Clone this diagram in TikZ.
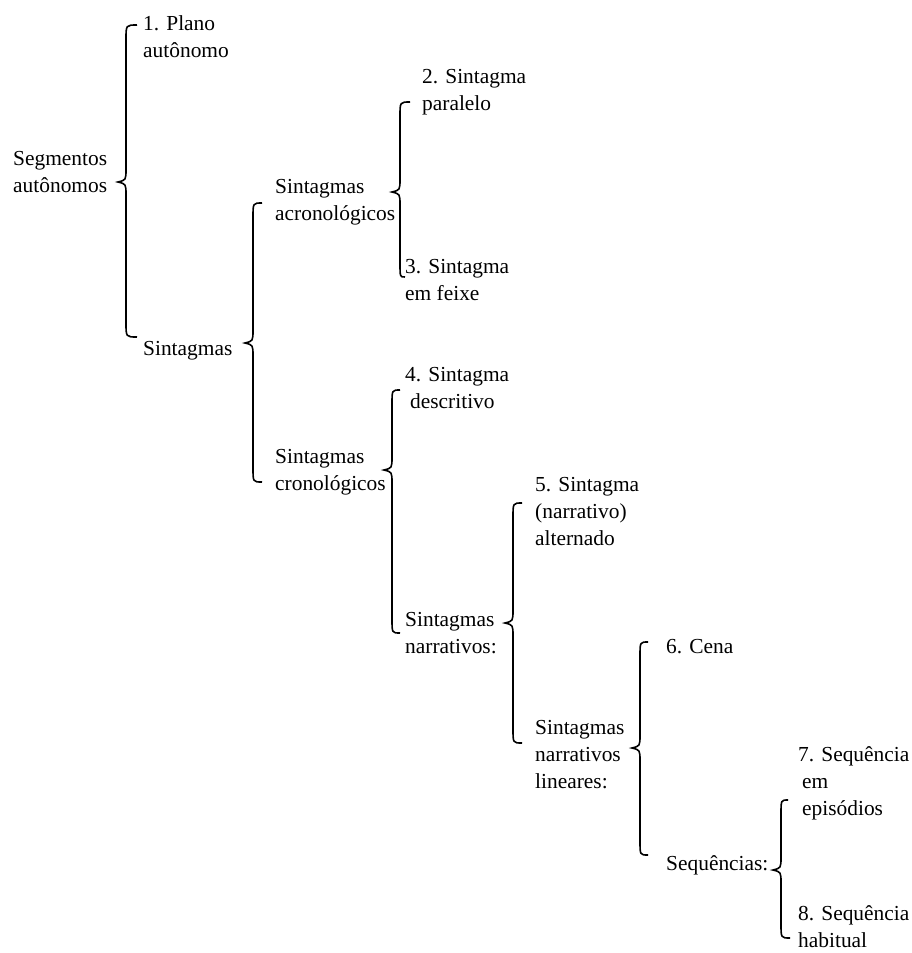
\documentclass[tikz,border=0pt]{standalone}
\usepackage{fontspec}
\setmainfont{Liberation Serif}
\usetikzlibrary{positioning,calc}

\newcommand{\drawbrace}[3]{%
  \draw[pbrace] let \p1=(#1), \p2=(#2), \p3=(#3) in
    (\p1) .. controls (\x2+8pt,\y1) .. (\x2+8pt,\y1-14pt)
    -- (\x2+8pt,\y2+13pt) .. controls (\x2+8pt,\y2+2pt) .. (\p2)
    .. controls (\x2+8pt,\y2-2pt) .. (\x2+8pt,\y2-13pt)
    -- (\x2+8pt,\y3+14pt) .. controls (\x2+8pt,\y3) .. (\p3);}

\begin{document}
\begin{tikzpicture}[x=1pt, y=-1pt]
\tikzset{
    plabel/.style= {anchor=base west, inner sep=0pt, align=left, font=\fontsize{21.4}{26.6}\selectfont},
    pbrace/.style= {black, line width=1.6pt},
}
\useasboundingbox (0,0) rectangle (911,953);

% labels, placed at the baseline of their last line
\node[plabel] (seg) at (13,192) {Segmentos\\autônomos};
\node[plabel] (p1) at (143,57) {1. Plano\\autônomo};
\node[plabel] (sint) at (143,355) {Sintagmas};

\node[plabel] (acro) at (275,220) {Sintagmas\\acronológicos};
\node[plabel] (p2) at (422,110) {2. Sintagma\\paralelo};
\node[plabel] (p3) at (405,300) {3. Sintagma\\em feixe};

\node[plabel] (cron) at (275,490) {Sintagmas\\cronológicos};
\node[plabel] (p4) at (405,408) {4. Sintagma\\\hspace*{5pt}descritivo};
\node[plabel] (narr) at (405,653) {Sintagmas\\narrativos:};

\node[plabel] (p5) at (535,545) {5. Sintagma\\(narrativo)\\alternado};
\node[plabel] (lin) at (535,788) {Sintagmas\\narrativos\\lineares:};

\node[plabel] (p6) at (666,653) {6. Cena};
\node[plabel] (seq) at (666,870) {Sequências:};

\node[plabel] (p7) at (798,815) {7. Sequência\\\hspace*{4pt}em\\\hspace*{4pt}episódios};
\node[plabel] (p8) at (798,947) {8. Sequência\\habitual};

% brace ends
\coordinate (segTop) at (137,25);
\coordinate (segMid) at (118,182);
\coordinate (segBot) at (137,337);
\coordinate (sintTop) at (262,203);
\coordinate (sintMid) at (245,343);
\coordinate (sintBot) at (262,482);
\coordinate (acroTop) at (410,102);
\coordinate (acroMid) at (392,192);
\coordinate (acroBot) at (405,277);
\coordinate (cronTop) at (400,390);
\coordinate (cronMid) at (384,470);
\coordinate (cronBot) at (400,633);
\coordinate (narrTop) at (522,503);
\coordinate (narrMid) at (505,623);
\coordinate (narrBot) at (522,743);
\coordinate (linTop) at (648,642);
\coordinate (linMid) at (632,748);
\coordinate (linBot) at (648,855);
\coordinate (seqTop) at (788,800);
\coordinate (seqMid) at (773,870);
\coordinate (seqBot) at (790,938);

\drawbrace{segTop}{segMid}{segBot}
\drawbrace{sintTop}{sintMid}{sintBot}
\drawbrace{acroTop}{acroMid}{acroBot}
\drawbrace{cronTop}{cronMid}{cronBot}
\drawbrace{narrTop}{narrMid}{narrBot}
\drawbrace{linTop}{linMid}{linBot}
\drawbrace{seqTop}{seqMid}{seqBot}
\end{tikzpicture}
\end{document}
